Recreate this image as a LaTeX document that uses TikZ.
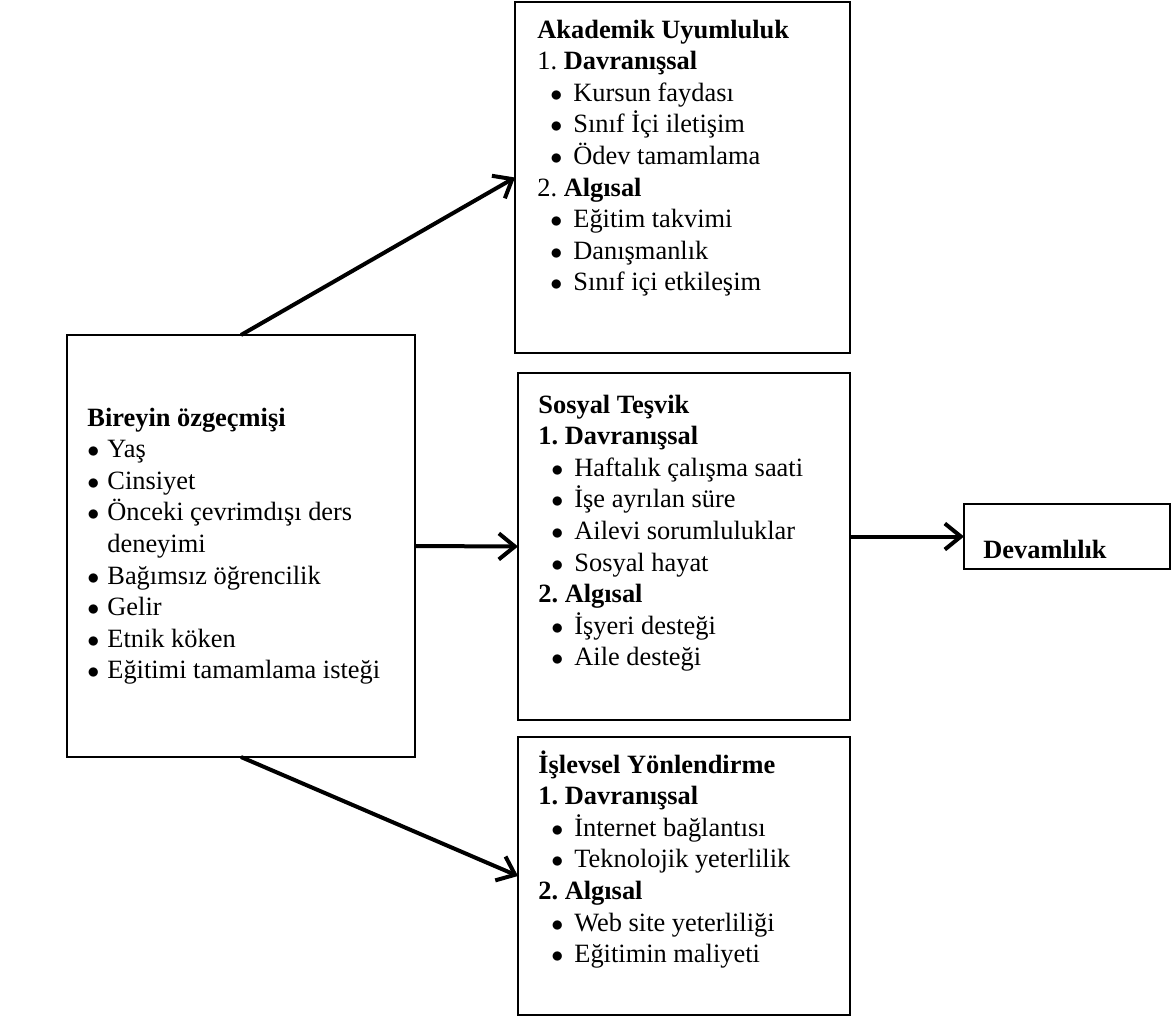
\documentclass[tikz,border=0pt]{standalone}
\usepackage{fontspec}
\setmainfont{Liberation Serif}
\usetikzlibrary{arrows.meta,calc}

% list items: indented bullet (right-hand boxes) and flush bullet (left box)
\newcommand\blt{$\bullet$}
\newcommand\itm[1]{\hspace*{6.5pt}\makebox[11.5pt][l]{\blt}#1}
\newcommand\bitm[1]{\makebox[10pt][l]{\blt}#1}

\begin{document}
\frenchspacing
\begin{tikzpicture}[x=0.5pt,y=-0.5pt,
  box/.style={draw, line width=1pt, inner sep=0pt, outer sep=0pt},
  txt/.style={anchor=base west, inner sep=0pt, font=\fontsize{13.2}{15.8}\selectfont},
  arr/.style={line width=2pt, -{Straight Barb[length=8pt,width=13pt,line width=2pt]}},
]
\useasboundingbox (0,0) rectangle (1173,1018);

% boxes
\node[box, minimum width=167.5pt, minimum height=175.5pt] (aka) at (682.5,177.5) {};
\node[box, minimum width=174pt,   minimum height=211pt]   (bir) at (241,546) {};
\node[box, minimum width=166pt,   minimum height=173.5pt] (sos) at (684,546.5) {};
\node[box, minimum width=166pt,   minimum height=139pt]   (isl) at (684,876) {};
\node[box, minimum width=103pt,   minimum height=32.5pt]  (dev) at (1067,536.5) {};

% box contents
\node[txt] (akat) at ($(aka.north west)+(22,36)$) {\begin{tabular}[t]{@{}l@{}}
  \textbf{Akademik Uyumluluk}\\
  1. \textbf{Davranışsal}\\
  \itm{Kursun faydası}\\
  \itm{Sınıf İçi iletişim}\\
  \itm{Ödev tamamlama}\\
  2. \textbf{Algısal}\\
  \itm{Eğitim takvimi}\\
  \itm{Danışmanlık}\\
  \itm{Sınıf içi etkileşim}
\end{tabular}};

\node[txt] (birt) at ($(bir.north west)+(20,91)$) {\begin{tabular}[t]{@{}l@{}}
  \textbf{Bireyin özgeçmişi}\\
  \bitm{Yaş}\\
  \bitm{Cinsiyet}\\
  \bitm{Önceki çevrimdışı ders}\\
  \hspace*{10pt}deneyimi\\
  \bitm{Bağımsız öğrencilik}\\
  \bitm{Gelir}\\
  \bitm{Etnik köken}\\
  \bitm{Eğitimi tamamlama isteği}
\end{tabular}};

\node[txt] (sost) at ($(sos.north west)+(20,40)$) {\begin{tabular}[t]{@{}l@{}}
  \textbf{Sosyal Teşvik}\\
  \textbf{1. Davranışsal}\\
  \itm{Haftalık çalışma saati}\\
  \itm{İşe ayrılan süre}\\
  \itm{Ailevi sorumluluklar}\\
  \itm{Sosyal hayat}\\
  \textbf{2. Algısal}\\
  \itm{İşyeri desteği}\\
  \itm{Aile desteği}
\end{tabular}};

\node[txt] (islt) at ($(isl.north west)+(20,36)$) {\begin{tabular}[t]{@{}l@{}}
  \textbf{İşlevsel Yönlendirme}\\
  \textbf{1. Davranışsal}\\
  \itm{İnternet bağlantısı}\\
  \itm{Teknolojik yeterlilik}\\
  \textbf{2. Algısal}\\
  \itm{Web site yeterliliği}\\
  \itm{Eğitimin maliyeti}
\end{tabular}};

\node[txt] (devt) at ($(dev.west)+(19,21.5)$) {\textbf{Devamlılık}};

% connectors
\draw[arr] (bir.north) -- (aka.west);
\draw[arr] (bir.east) -- (sos.west);
\draw[arr] (sos.east |- dev.west) -- (dev.west);
\draw[arr] (bir.south) -- (isl.west);
\end{tikzpicture}
\end{document}
